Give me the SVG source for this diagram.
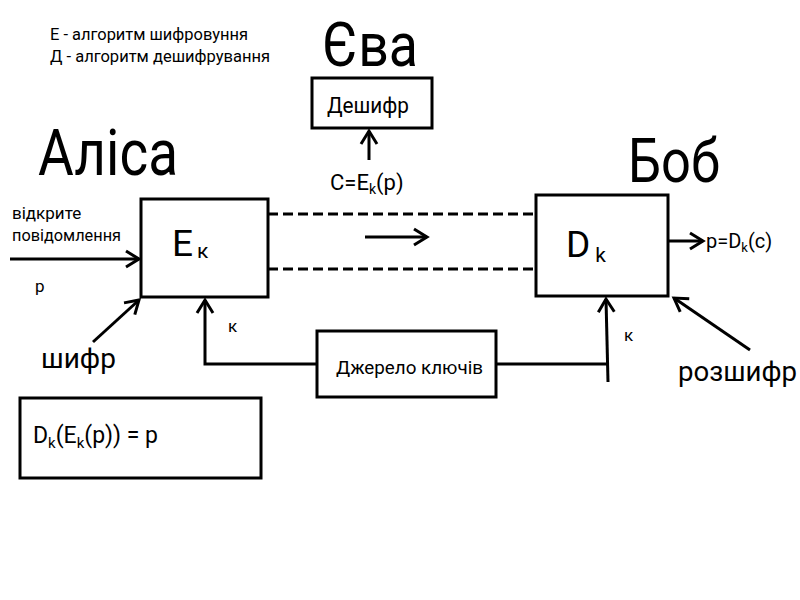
<svg xmlns="http://www.w3.org/2000/svg" width="800" height="600" viewBox="0 0 800 600">
<style>
text{font-family:Roboto,"Noto Sans",sans-serif;fill:#000}
.box{fill:#fff;stroke:#000;stroke-width:3}
.ln{fill:none;stroke:#000;stroke-width:3}
.dash{fill:none;stroke:#000;stroke-width:3;stroke-dasharray:10 5}
.arr{marker-end:url(#chev)}
.mid{font-size:28px}
.sm{font-size:17px}
</style>
<defs>
<marker id="chev" markerUnits="userSpaceOnUse" markerWidth="20" markerHeight="20" viewBox="-16 -10 20 20" refX="0" refY="0" orient="auto">
<polyline points="-13,-8 0,0 -13,8" fill="none" stroke="#000" stroke-width="3"/>
</marker>
</defs>
<rect width="800" height="600" fill="#fff"/>
<g id="legend">
<text class="sm" x="50" y="40" textLength="198" lengthAdjust="spacingAndGlyphs">E - алгоритм шифровуння</text>
<text class="sm" x="50" y="62" textLength="220" lengthAdjust="spacingAndGlyphs">Д - алгоритм дешифрування</text>
</g>
<g id="eva-title"><text x="322" y="66" font-size="62" textLength="96" lengthAdjust="spacingAndGlyphs">Єва</text></g>
<g id="alice-title"><text x="38" y="175" font-size="64" textLength="140" lengthAdjust="spacingAndGlyphs">Аліса</text></g>
<g id="bob-title"><text x="628" y="182" font-size="62" textLength="92" lengthAdjust="spacingAndGlyphs">Боб</text></g>
<g id="connectors">
<line class="ln arr" x1="369" y1="160" x2="369" y2="131"/>
<line class="dash" x1="268" y1="214" x2="536" y2="214"/>
<line class="dash" x1="268" y1="269" x2="536" y2="269"/>
<line class="ln arr" x1="365" y1="237" x2="427" y2="237"/>
<line class="ln arr" x1="10" y1="259" x2="139" y2="259"/>
<line class="ln arr" x1="93" y1="342" x2="139" y2="300"/>
<polyline class="ln arr" points="317,364 205,364 205,300"/>
<line class="ln" x1="496" y1="364" x2="608" y2="364"/>
<line class="ln arr" x1="608" y1="382" x2="606" y2="299"/>
<line class="ln arr" x1="668" y1="241" x2="703" y2="241"/>
<line class="ln arr" x1="750" y1="350" x2="674" y2="298"/>
</g>
<g id="eve">
<rect class="box" x="312" y="78" width="120" height="50"/>
<text x="327" y="113" font-size="22" textLength="82" lengthAdjust="spacingAndGlyphs">Дешифр</text>
</g>
<g id="ciphertext-label">
<text x="330" y="190" font-size="22">C=E<tspan font-size="14" dy="4">k</tspan><tspan dy="-4">(p)</tspan></text>
</g>
<g id="encrypt">
<rect class="box" x="141" y="199" width="127" height="98"/>
<text x="172" y="256" font-size="37">E<tspan font-size="21" dx="4" dy="2">к</tspan></text>
</g>
<g id="decrypt">
<rect class="box" x="536" y="195" width="132" height="101"/>
<text x="566" y="257" font-size="37">D<tspan font-size="21" dx="5" dy="5">k</tspan></text>
</g>
<g id="labels">
<text class="sm" x="12" y="219">відкрите</text>
<text class="sm" x="12" y="241" textLength="109" lengthAdjust="spacingAndGlyphs">повідомлення</text>
<text class="sm" x="35" y="292">p</text>
<text class="mid" x="41" y="368">шифр</text>
<text class="sm" x="228" y="332">к</text>
<text class="sm" x="624" y="341">к</text>
<text class="mid" x="678" y="381" textLength="119" lengthAdjust="spacingAndGlyphs">розшифр</text>
<text x="706" y="248" font-size="20">p=D<tspan font-size="13" dy="4">k</tspan><tspan dy="-4">(c)</tspan></text>
</g>
<g id="key-source">
<rect class="box" x="317" y="331" width="179" height="66"/>
<text x="336" y="374" font-size="19" textLength="147" lengthAdjust="spacingAndGlyphs">Джерело ключів</text>
</g>
<g id="identity">
<rect class="box" x="20" y="398" width="241" height="80"/>
<text x="33" y="443" font-size="23">D<tspan font-size="15" dy="5">k</tspan><tspan dy="-5">(E</tspan><tspan font-size="15" dy="5">k</tspan><tspan dy="-5">(p)) = p</tspan></text>
</g>
</svg>
